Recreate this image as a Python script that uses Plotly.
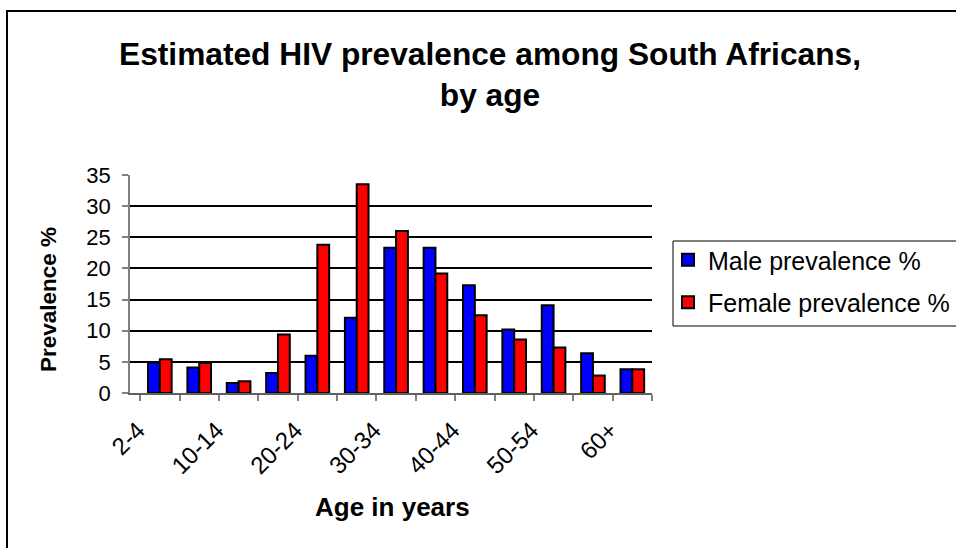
import plotly.graph_objects as go

# Age bands and estimated HIV prevalence (%) by sex
age_groups = ["2-4", "5-9", "10-14", "15-19", "20-24", "25-29", "30-34",
              "35-39", "40-44", "45-49", "50-54", "55-59", "60+"]
male_prev = [4.9, 4.1, 1.6, 3.2, 6.0, 12.1, 23.3, 23.3, 17.3, 10.2, 14.1, 6.4, 3.8]
female_prev = [5.4, 4.8, 1.9, 9.4, 23.8, 33.5, 26.0, 19.2, 12.5, 8.6, 7.3, 2.8, 3.8]

# every other age band is labelled on the x axis
x_ticktext = [a if i % 2 == 0 else "" for i, a in enumerate(age_groups)]

W, H = 956, 548
L, R, T, B = 130, 304, 175, 155
PW, PH = W - L - R, H - T - B


def px_x(px):
    return (px - L) / PW


def px_y(py):
    return (H - B - py) / PH


FONT = "Arial, Liberation Sans, sans-serif"

fig = go.Figure()
fig.add_trace(go.Bar(
    x=age_groups, y=male_prev, name="Male prevalence %",
    marker=dict(color="#0000FF", line=dict(color="#000000", width=2)),
    legendgroup="m",
))
fig.add_trace(go.Bar(
    x=age_groups, y=female_prev, name="Female prevalence %",
    marker=dict(color="#FF0000", line=dict(color="#000000", width=2)),
    legendgroup="f",
))
# invisible trace on the overlay axis so its gridlines are drawn
fig.add_trace(go.Scatter(x=[age_groups[0]], y=[0], yaxis="y2", mode="markers",
                         marker=dict(opacity=0), showlegend=False, hoverinfo="skip"))

fig.update_layout(
    width=W, height=H,
    margin=dict(l=L, r=R, t=T, b=B, autoexpand=False),
    paper_bgcolor="white", plot_bgcolor="white",
    barmode="group", bargap=0.4, bargroupgap=0,
    font=dict(family=FONT, color="#000000", size=22),
    title=dict(
        text="<b>Estimated HIV prevalence among South Africans,<br>by age</b>",
        font=dict(family=FONT, size=31.7, color="#000000"),
        xref="paper", x=px_x(490), xanchor="center",
        yref="container", y=1 - 65 / H, yanchor="top",
    ),
    xaxis=dict(
        type="category",
        tickvals=age_groups, ticktext=x_ticktext,
        tickson="boundaries", ticks="outside", ticklen=6,
        tickcolor="#808080", tickwidth=1.5,
        tickangle=-45, tickfont=dict(size=24),
        ticklabelstandoff=12, ticklabelshift=-22,
        showline=True, linecolor="#606060", linewidth=1.5,
        showgrid=False, zeroline=False,
    ),
    yaxis=dict(
        range=[0, 35], tickvals=[0, 5, 10, 15, 20, 25, 30, 35],
        ticks="outside", ticklen=6, tickcolor="#808080", tickwidth=1.5,
        ticklabelstandoff=7,
        showline=True, linecolor="#808080", linewidth=1.5,
        showgrid=False, zeroline=False, tickfont=dict(size=22),
    ),
    yaxis2=dict(
        overlaying="y", range=[0, 35], tickvals=[5, 10, 15, 20, 25, 30],
        showgrid=True, gridcolor="#000000", gridwidth=1.5,
        showticklabels=False, ticks="", showline=False, zeroline=False,
    ),
    legend=dict(
        x=px_x(668), xanchor="left", y=px_y(237), yanchor="top",
        font=dict(size=25), borderwidth=0, bgcolor="rgba(0,0,0,0)",
        traceorder="grouped", tracegroupgap=7,
    ),
    showlegend=True,
    annotations=[
        dict(text="<b>Prevalence %</b>", textangle=-90,
             xref="paper", yref="paper", x=px_x(48), y=px_y(300),
             xanchor="center", yanchor="middle", showarrow=False,
             font=dict(size=22.5)),
        dict(text="<b>Age in years</b>",
             xref="paper", yref="paper", x=px_x(392), y=px_y(507),
             xanchor="center", yanchor="middle", showarrow=False,
             font=dict(size=26)),
    ],
    shapes=[
        # chart frame
        dict(type="rect", xref="paper", yref="paper",
             x0=px_x(7), x1=px_x(990), y0=px_y(11), y1=px_y(600),
             line=dict(color="#000000", width=2), layer="below"),
        # legend box
        dict(type="rect", xref="paper", yref="paper",
             x0=px_x(673), x1=px_x(990), y0=px_y(241), y1=px_y(326),
             line=dict(color="#000000", width=1), layer="below"),
    ],
)

fig.write_html("out.html")
